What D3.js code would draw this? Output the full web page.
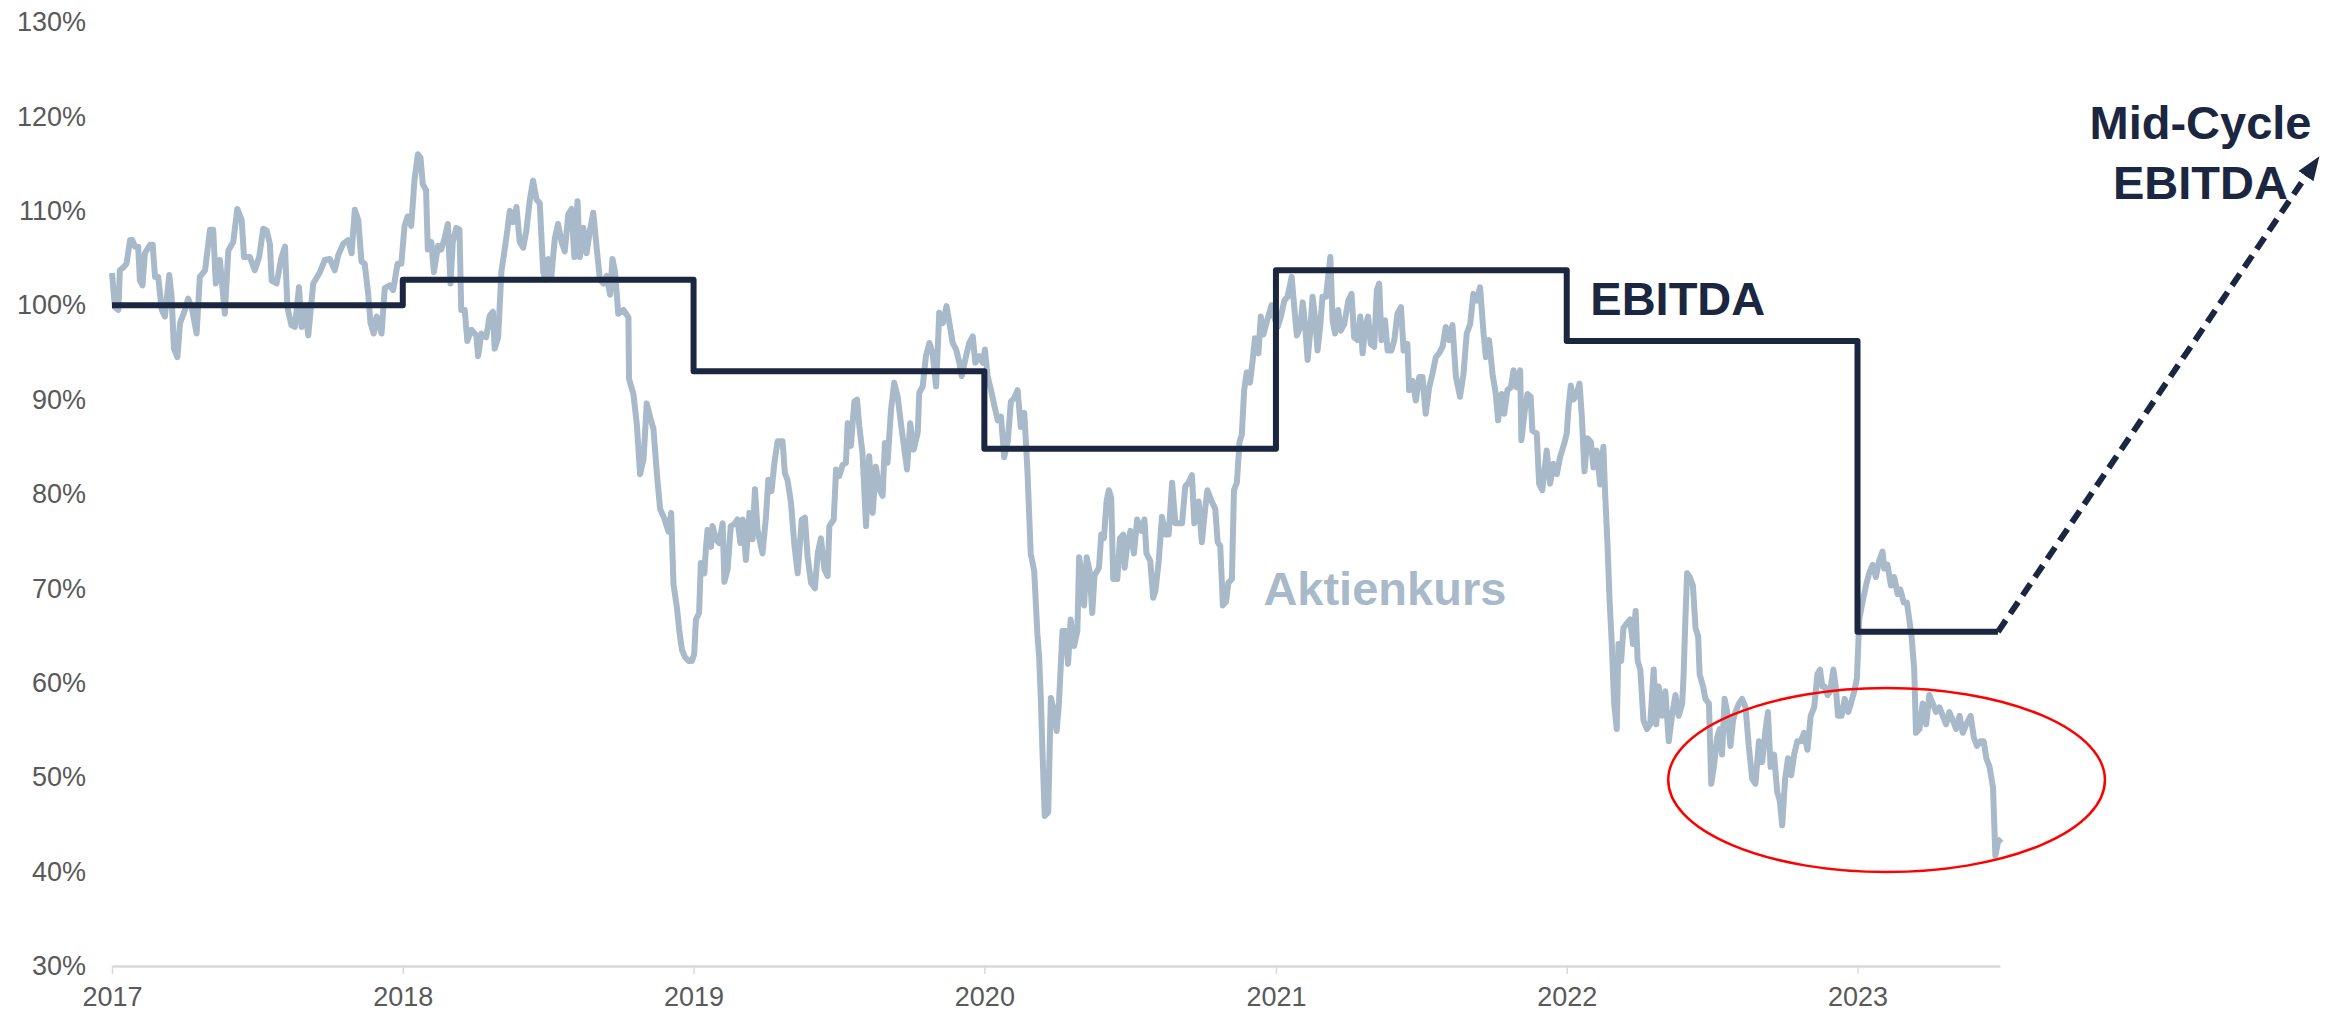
<!DOCTYPE html>
<html>
<head>
<meta charset="utf-8">
<script src="https://cdn.jsdelivr.net/npm/d3@7"></script>
<style>
  body { margin: 0; background: #fff; }
  svg { display: block; }
</style>
</head>
<body>
<svg id="chart" width="2348" height="1013"></svg>
<script>
// chart values (percent of start value)
const yTicks = [30, 40, 50, 60, 70, 80, 90, 100, 110, 120, 130];
const achseEnde = 2023.49;

// EBITDA per year (step line), held until ebitdaEnde
const ebitdaJahre = [2017, 2018, 2019, 2020, 2021, 2022, 2023];
const ebitdaWerte = [100, 102.7, 93.0, 84.8, 103.7, 96.2, 65.4];
const ebitdaEnde = 2023.483;
// dashed arrow towards mid-cycle EBITDA [year, value]
const pfeilZiel = [2024.583, 115.6];

// share price, [fraction of year, value] per year
const kurs2017 = [[0.000,103.4],[0.010,99.8],[0.022,99.5],[0.027,103.7],[0.039,104.0],[0.050,104.4],[0.062,106.9],[0.070,106.9],[0.079,106.2],[0.090,106.2],[0.096,102.6],[0.105,102.1],[0.113,105.5],[0.131,106.4],[0.140,106.4],[0.148,103.0],[0.159,103.0],[0.171,99.5],[0.182,98.8],[0.197,103.2],[0.205,100.9],[0.213,95.4],[0.225,94.5],[0.234,98.1],[0.251,99.5],[0.262,100.7],[0.274,99.8],[0.291,97.0],[0.302,103.0],[0.320,103.7],[0.337,108.0],[0.348,108.0],[0.357,102.3],[0.371,104.8],[0.388,99.1],[0.400,105.8],[0.417,106.7],[0.431,110.2],[0.446,109.0],[0.454,105.1],[0.474,105.1],[0.491,103.7],[0.506,105.1],[0.520,108.1],[0.532,107.9],[0.543,106.5],[0.549,102.6],[0.566,102.3],[0.583,105.1],[0.595,106.2],[0.603,99.8],[0.617,97.9],[0.629,97.7],[0.643,101.9],[0.652,97.7],[0.663,99.8],[0.675,96.8],[0.692,102.3],[0.715,103.5],[0.732,104.8],[0.749,104.9],[0.766,103.7],[0.778,105.3],[0.795,106.5],[0.812,106.9],[0.824,105.5],[0.835,110.1],[0.847,109.0],[0.858,104.6],[0.869,104.4],[0.881,101.2],[0.889,98.1],[0.900,97.0],[0.910,98.8],[0.927,97.0],[0.938,101.8],[0.955,102.1],[0.967,101.6],[0.982,104.4],[0.995,104.4]];
const kurs2018 = [[0.006,108.4],[0.017,109.4],[0.029,108.4],[0.040,113.2],[0.052,116.0],[0.061,115.6],[0.069,112.8],[0.080,112.2],[0.086,105.9],[0.098,106.7],[0.107,103.5],[0.121,106.3],[0.132,105.9],[0.144,107.1],[0.155,108.6],[0.164,102.3],[0.172,106.7],[0.184,108.2],[0.195,108.0],[0.201,99.5],[0.213,99.5],[0.222,96.2],[0.236,97.4],[0.253,96.8],[0.259,94.6],[0.270,97.0],[0.287,96.6],[0.299,98.9],[0.310,99.3],[0.316,95.4],[0.328,96.6],[0.339,103.5],[0.356,107.1],[0.368,110.0],[0.379,108.8],[0.391,110.4],[0.402,106.7],[0.414,106.1],[0.425,107.9],[0.437,111.2],[0.448,113.2],[0.460,111.2],[0.471,110.8],[0.483,103.5],[0.491,102.7],[0.500,104.9],[0.511,103.1],[0.523,107.1],[0.534,108.6],[0.546,106.7],[0.557,105.7],[0.569,109.6],[0.580,110.2],[0.590,105.1],[0.601,111.0],[0.609,105.1],[0.621,108.2],[0.632,105.5],[0.644,108.0],[0.655,109.8],[0.667,106.0],[0.678,102.7],[0.690,102.3],[0.701,103.1],[0.713,101.1],[0.721,104.9],[0.730,103.5],[0.741,99.1],[0.759,99.5],[0.776,98.7],[0.778,92.2],[0.793,90.6],[0.805,87.3],[0.816,82.1],[0.828,83.7],[0.839,89.6],[0.851,88.1],[0.862,86.9],[0.874,82.1],[0.885,78.4],[0.897,77.6],[0.914,76.0],[0.923,78.0],[0.931,70.4],[0.943,67.9],[0.951,65.5],[0.960,63.5],[0.971,62.7],[0.983,62.3],[0.994,62.3]];
const kurs2019 = [[0.002,63.0],[0.008,66.7],[0.019,67.4],[0.025,72.7],[0.037,71.6],[0.042,74.1],[0.048,76.2],[0.060,74.4],[0.065,76.6],[0.077,75.2],[0.088,74.8],[0.100,76.9],[0.106,70.7],[0.117,72.0],[0.128,76.6],[0.140,76.8],[0.151,77.3],[0.161,74.8],[0.169,77.3],[0.180,73.0],[0.192,78.0],[0.203,75.2],[0.211,80.5],[0.220,76.2],[0.237,73.7],[0.249,77.6],[0.257,81.5],[0.268,80.3],[0.278,83.3],[0.289,85.6],[0.306,85.6],[0.314,82.2],[0.323,81.5],[0.335,79.1],[0.346,74.8],[0.358,71.6],[0.372,77.3],[0.383,77.5],[0.392,73.4],[0.404,70.6],[0.417,70.0],[0.427,73.7],[0.438,75.3],[0.450,72.0],[0.461,71.3],[0.467,76.6],[0.482,77.3],[0.490,82.6],[0.501,81.9],[0.513,83.1],[0.524,83.3],[0.530,87.5],[0.541,85.1],[0.553,89.8],[0.562,90.0],[0.570,87.2],[0.581,84.3],[0.593,76.6],[0.604,84.0],[0.616,78.0],[0.627,82.9],[0.639,80.5],[0.650,79.8],[0.658,85.4],[0.667,83.3],[0.679,88.9],[0.690,91.8],[0.702,90.3],[0.713,87.5],[0.725,84.7],[0.734,82.6],[0.745,87.5],[0.757,84.7],[0.771,86.5],[0.776,90.7],[0.788,91.4],[0.799,94.6],[0.811,96.0],[0.822,94.9],[0.834,91.4],[0.845,99.2],[0.857,98.1],[0.870,99.9],[0.880,98.1],[0.891,96.0],[0.903,95.3],[0.914,93.9],[0.922,92.5],[0.937,94.6],[0.948,96.0],[0.960,96.7],[0.969,93.9],[0.983,94.6],[0.994,93.9]];
const kurs2020 = [[0.002,95.3],[0.011,92.5],[0.023,91.0],[0.034,89.4],[0.046,87.8],[0.057,88.2],[0.068,83.9],[0.080,85.5],[0.091,89.8],[0.103,90.2],[0.114,91.0],[0.125,87.1],[0.137,88.6],[0.148,82.3],[0.159,73.7],[0.171,71.8],[0.182,65.1],[0.188,62.7],[0.194,58.0],[0.199,53.0],[0.207,45.9],[0.219,46.3],[0.228,58.4],[0.239,56.9],[0.248,54.9],[0.256,58.0],[0.268,65.5],[0.279,65.5],[0.287,62.0],[0.296,66.7],[0.308,63.9],[0.319,65.5],[0.325,73.3],[0.334,71.4],[0.342,68.2],[0.351,73.3],[0.361,71.8],[0.370,67.4],[0.378,71.4],[0.393,72.2],[0.401,75.7],[0.410,75.3],[0.419,79.2],[0.427,80.4],[0.435,79.6],[0.442,71.0],[0.456,71.0],[0.465,75.3],[0.476,75.7],[0.481,72.2],[0.490,74.5],[0.501,76.1],[0.513,73.7],[0.524,77.3],[0.538,76.1],[0.549,77.3],[0.556,73.7],[0.569,72.9],[0.579,69.0],[0.587,69.8],[0.598,72.9],[0.609,77.6],[0.621,75.7],[0.632,75.7],[0.644,81.2],[0.655,76.9],[0.666,76.9],[0.678,76.9],[0.689,80.8],[0.700,81.2],[0.712,82.0],[0.720,76.9],[0.735,79.2],[0.746,74.9],[0.757,78.4],[0.765,80.4],[0.780,79.2],[0.792,78.4],[0.800,74.9],[0.809,74.5],[0.818,68.2],[0.829,68.6],[0.837,70.6],[0.849,71.0],[0.856,80.4],[0.866,81.2],[0.875,85.5],[0.883,86.3],[0.891,91.0],[0.900,92.9],[0.911,91.8],[0.920,94.1],[0.928,96.5],[0.940,94.9],[0.948,98.8],[0.957,96.9],[0.970,98.4],[0.985,100.0],[0.993,98.8]];
const kurs2021 = [[0.006,97.7],[0.017,98.8],[0.029,100.5],[0.040,100.9],[0.054,103.0],[0.063,99.8],[0.072,96.8],[0.084,97.7],[0.092,100.3],[0.100,98.0],[0.109,94.2],[0.118,97.3],[0.126,100.9],[0.134,98.8],[0.143,95.2],[0.152,97.7],[0.160,100.9],[0.172,100.9],[0.187,105.1],[0.195,98.4],[0.203,97.0],[0.214,99.5],[0.223,97.3],[0.235,98.0],[0.249,100.5],[0.260,101.2],[0.269,96.6],[0.281,96.3],[0.290,98.8],[0.298,94.9],[0.307,97.7],[0.317,98.8],[0.326,95.9],[0.338,95.6],[0.347,101.6],[0.355,102.3],[0.363,96.3],[0.375,98.4],[0.384,95.2],[0.397,95.2],[0.407,96.3],[0.418,99.1],[0.430,99.8],[0.439,95.2],[0.452,95.9],[0.458,91.0],[0.470,92.0],[0.481,89.9],[0.493,92.4],[0.504,92.4],[0.515,88.5],[0.527,91.3],[0.538,92.7],[0.550,94.5],[0.561,94.9],[0.573,95.6],[0.584,97.7],[0.596,96.3],[0.607,97.9],[0.619,92.4],[0.633,90.3],[0.645,92.7],[0.656,97.0],[0.668,98.0],[0.679,101.2],[0.691,100.5],[0.702,101.9],[0.714,97.0],[0.722,94.5],[0.733,96.3],[0.745,92.7],[0.756,90.6],[0.764,87.8],[0.776,90.6],[0.785,88.5],[0.796,91.0],[0.808,91.3],[0.817,93.1],[0.828,91.3],[0.840,93.1],[0.844,85.7],[0.856,88.9],[0.865,90.6],[0.876,90.3],[0.882,86.7],[0.897,86.4],[0.905,81.1],[0.916,80.4],[0.931,84.6],[0.943,81.1],[0.954,83.2],[0.966,82.1],[0.977,83.9],[0.991,85.3]];
const kurs2022 = [[0.000,86.4],[0.006,89.1],[0.014,91.5],[0.023,90.0],[0.032,90.4],[0.044,91.7],[0.052,88.2],[0.061,82.4],[0.071,85.9],[0.083,85.5],[0.092,82.8],[0.103,84.6],[0.115,81.0],[0.126,85.0],[0.132,80.1],[0.140,74.8],[0.147,69.0],[0.155,64.1],[0.163,57.8],[0.172,55.1],[0.178,64.1],[0.187,62.3],[0.195,65.8],[0.207,66.3],[0.218,66.7],[0.228,64.1],[0.237,67.6],[0.244,62.3],[0.253,61.4],[0.264,56.0],[0.276,55.1],[0.287,55.6],[0.299,61.4],[0.308,55.6],[0.316,59.6],[0.328,56.5],[0.339,59.1],[0.351,53.8],[0.362,56.5],[0.374,58.7],[0.385,56.5],[0.397,57.8],[0.402,60.9],[0.408,66.7],[0.414,71.6],[0.423,71.2],[0.434,70.3],[0.443,65.8],[0.452,64.9],[0.457,60.9],[0.469,59.6],[0.477,58.3],[0.489,57.8],[0.497,49.3],[0.506,51.1],[0.517,54.2],[0.526,55.1],[0.534,52.4],[0.543,58.3],[0.552,56.9],[0.563,53.3],[0.572,56.0],[0.580,56.9],[0.592,57.8],[0.603,58.3],[0.615,57.4],[0.626,53.3],[0.638,49.8],[0.649,49.3],[0.661,53.8],[0.672,51.6],[0.684,55.1],[0.692,56.9],[0.701,51.1],[0.713,52.4],[0.724,48.4],[0.733,47.5],[0.741,44.9],[0.751,49.8],[0.761,52.0],[0.772,50.2],[0.782,52.4],[0.793,53.8],[0.805,53.8],[0.816,54.7],[0.828,52.9],[0.839,56.5],[0.851,57.4],[0.862,60.9],[0.871,61.4],[0.879,59.6],[0.887,59.6],[0.897,58.7],[0.906,59.1],[0.917,61.4],[0.925,59.6],[0.933,56.5],[0.945,56.5],[0.956,58.3],[0.968,56.9],[0.977,57.8],[0.989,59.1],[0.998,60.5]];
const kurs2023 = [[0.006,66.7],[0.017,68.5],[0.029,70.3],[0.040,71.6],[0.052,72.5],[0.063,71.2],[0.075,73.0],[0.086,73.9],[0.092,72.1],[0.103,72.5],[0.115,70.3],[0.126,71.2],[0.138,69.4],[0.147,69.9],[0.159,68.5],[0.170,68.5],[0.178,66.7],[0.186,64.9],[0.195,61.4],[0.201,54.7],[0.213,55.1],[0.224,57.8],[0.236,55.6],[0.247,58.7],[0.259,57.8],[0.270,56.9],[0.282,57.4],[0.293,56.5],[0.305,55.6],[0.316,56.9],[0.328,56.0],[0.339,55.1],[0.351,56.5],[0.362,54.7],[0.374,55.6],[0.389,56.5],[0.400,54.2],[0.411,53.3],[0.423,53.8],[0.434,53.8],[0.443,52.0],[0.454,51.1],[0.466,48.9],[0.471,44.4],[0.474,41.7],[0.483,43.1],[0.494,43.5]];

const kursJahre = [2017, 2018, 2019, 2020, 2021, 2022, 2023];
const kursReihen = [kurs2017, kurs2018, kurs2019, kurs2020, kurs2021, kurs2022, kurs2023];

// red oval: centre [year, value], half width in years, half height in points
const ovalMitte = [2023.10, 49.7];
const ovalRadien = [0.751, 9.75];

// text labels: [text, year, value, anchor, colour]
const navy = "#1b2640";
const grau = "#a8bac9";
const beschriftung = [
  ["EBITDA", 2022.081, 99.0, "start", navy],
  ["Aktienkurs", 2020.957, 68.2, "start", grau],
  ["Mid-Cycle", 2024.179, 117.6, "middle", navy],
  ["EBITDA", 2024.179, 111.3, "middle", navy]
];

const fontFamily = "Arial, 'Liberation Sans', sans-serif";

// decimal year -> Date
function datum(dez) {
  const j = Math.floor(dez);
  const a = Date.UTC(j, 0, 1), b = Date.UTC(j + 1, 0, 1);
  return new Date(a + (dez - j) * (b - a));
}

const svg = d3.select("#chart");

const x = d3.scaleUtc()
  .domain([datum(2017), datum(achseEnde)])
  .range([112, 2000]);
const y = d3.scaleLinear()
  .domain([30, 130])
  .range([966, 22]);

// y axis (labels only)
svg.append("g")
  .attr("transform", "translate(112,0)")
  .call(d3.axisLeft(y).tickValues(yTicks).tickFormat(d => d + "%").tickSize(0).tickPadding(26))
  .call(g => g.select(".domain").remove())
  .attr("font-family", fontFamily)
  .attr("font-size", 27)
  .selectAll("text").attr("fill", "#595959");

// x axis
svg.append("g")
  .attr("transform", "translate(0,966)")
  .call(d3.axisBottom(x)
    .ticks(d3.utcYear.every(1))
    .tickFormat(d3.utcFormat("%Y"))
    .tickSize(8).tickSizeOuter(0).tickPadding(13))
  .attr("font-family", fontFamily)
  .attr("font-size", 27)
  .call(g => g.select(".domain").attr("stroke", "#d9d9d9").attr("stroke-width", 2.5))
  .call(g => g.selectAll(".tick line").attr("stroke", "#d9d9d9").attr("stroke-width", 1.5))
  .call(g => g.selectAll(".tick text").attr("fill", "#595959"));

// share price line
const kurs = kursJahre.flatMap((j, i) =>
  kursReihen[i].map(([f, v]) => ({ date: datum(j + f), value: v })));

const linie = d3.line()
  .x(d => x(d.date))
  .y(d => y(d.value));

svg.append("path")
  .datum(kurs)
  .attr("fill", "none")
  .attr("stroke", grau)
  .attr("stroke-width", 6)
  .attr("stroke-linejoin", "round")
  .attr("d", linie);

// EBITDA steps
const ebitda = ebitdaJahre.map((j, i) => ({ date: datum(j), value: ebitdaWerte[i] }));
ebitda.push({ date: datum(ebitdaEnde), value: ebitdaWerte[ebitdaWerte.length - 1] });

svg.append("path")
  .datum(ebitda)
  .attr("fill", "none")
  .attr("stroke", navy)
  .attr("stroke-width", 6)
  .attr("stroke-linejoin", "round")
  .attr("d", linie.curve(d3.curveStepAfter));

// dashed arrow
svg.append("defs").append("marker")
  .attr("id", "spitze")
  .attr("viewBox", "0 -10 24 20")
  .attr("markerUnits", "userSpaceOnUse")
  .attr("markerWidth", 24)
  .attr("markerHeight", 20)
  .attr("refX", 22)
  .attr("refY", 0)
  .attr("orient", "auto")
  .append("path")
  .attr("d", "M0,-9L24,0L0,9Z")
  .attr("fill", navy);

const letzter = ebitda[ebitda.length - 1];
svg.append("line")
  .attr("x1", x(letzter.date))
  .attr("y1", y(letzter.value))
  .attr("x2", x(datum(pfeilZiel[0])))
  .attr("y2", y(pfeilZiel[1]))
  .attr("stroke", navy)
  .attr("stroke-width", 6)
  .attr("stroke-dasharray", "14 8")
  .attr("marker-end", "url(#spitze)");

// red oval
const cx = x(datum(ovalMitte[0]));
const cy = y(ovalMitte[1]);
svg.append("ellipse")
  .attr("cx", cx)
  .attr("cy", cy)
  .attr("rx", x(datum(ovalMitte[0] + ovalRadien[0])) - cx)
  .attr("ry", y(ovalMitte[1] - ovalRadien[1]) - cy)
  .attr("fill", "none")
  .attr("stroke", "#ff0000")
  .attr("stroke-width", 2.5);

// labels
svg.selectAll("text.label")
  .data(beschriftung)
  .enter()
  .append("text")
  .attr("class", "label")
  .attr("x", d => x(datum(d[1])))
  .attr("y", d => y(d[2]))
  .attr("text-anchor", d => d[3])
  .attr("fill", d => d[4])
  .attr("font-family", fontFamily)
  .attr("font-weight", "bold")
  .attr("font-size", 47)
  .text(d => d[0]);
</script>
</body>
</html>
